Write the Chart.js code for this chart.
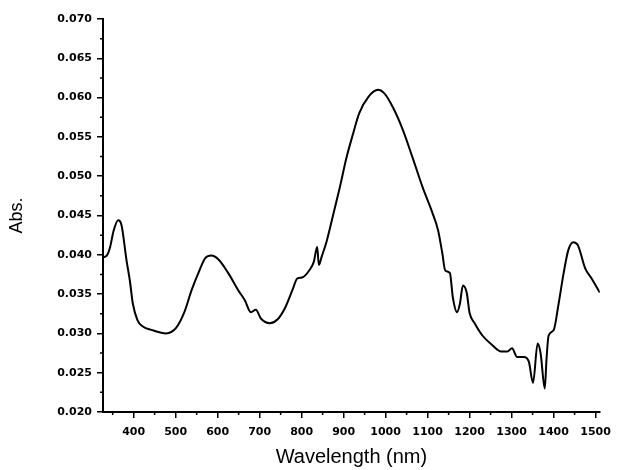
<!DOCTYPE html>
<html>
<head>
<meta charset="utf-8">
<script src="https://cdn.jsdelivr.net/npm/chart.js@4.4.1/dist/chart.umd.min.js"></script>
<style>
  html, body { margin: 0; padding: 0; background: #fff; }
  #wrap { width: 619px; height: 470px; }
</style>
</head>
<body>
<div id="wrap"><canvas id="spectrum"></canvas></div>
<script>
// wavelength (nm) and absorbance
const wavelengths = [
  328, 336, 344, 352, 363, 371, 383, 391, 398, 409, 421, 445, 477, 501, 520,
  538, 555, 571, 585, 602, 625, 649, 665, 679, 691, 703, 724, 743, 761, 778,
  790, 801, 818, 829, 837, 841, 848, 860, 876, 891, 907, 923, 937, 959, 982,
  996, 1017, 1041, 1064, 1088, 1111, 1125, 1135, 1142, 1153, 1160, 1170, 1177,
  1184, 1193, 1200, 1212, 1231, 1254, 1275, 1290, 1301, 1313, 1329, 1341, 1351,
  1362, 1369, 1379, 1383, 1388, 1400, 1412, 1424, 1435, 1447, 1458, 1475, 1489, 1510
];
const absorbance = [
  0.0397, 0.0399, 0.0410, 0.0430, 0.0444, 0.0438, 0.0393, 0.0367, 0.0338, 0.0317,
  0.0309, 0.0304, 0.0300, 0.0307, 0.0326, 0.0355, 0.0378, 0.0396, 0.0399, 0.0394,
  0.0377, 0.0355, 0.0342, 0.0327, 0.0330, 0.0319, 0.0313, 0.0318, 0.0333, 0.0355,
  0.0370, 0.0371, 0.0380, 0.0391, 0.0410, 0.0387, 0.0398, 0.0418, 0.0453, 0.0486,
  0.0524, 0.0555, 0.0580, 0.0601, 0.0610, 0.0606, 0.0588, 0.0559, 0.0524, 0.0486,
  0.0454, 0.0431, 0.0402, 0.0380, 0.0377, 0.0346, 0.0327, 0.0338, 0.0361, 0.0352,
  0.0326, 0.0313, 0.0297, 0.0285, 0.0277, 0.0277, 0.0281, 0.0270, 0.0270, 0.0264,
  0.0237, 0.0287, 0.0275, 0.0230, 0.0266, 0.0297, 0.0304, 0.0338, 0.0377, 0.0406,
  0.0416, 0.0412, 0.0383, 0.0371, 0.0352
];

const xMajorTicks = [400, 500, 600, 700, 800, 900, 1000, 1100, 1200, 1300, 1400, 1500];
const xMinorTicks = [350, 450, 550, 650, 750, 850, 950, 1050, 1150, 1250, 1350, 1450];
const yMajorTicks = [0.020, 0.025, 0.030, 0.035, 0.040, 0.045, 0.050, 0.055, 0.060, 0.065, 0.070];
const yMinorTicks = [0.0225, 0.0275, 0.0325, 0.0375, 0.0425, 0.0475, 0.0525, 0.0575, 0.0625, 0.0675];

const points = wavelengths.map((w, i) => ({ x: w, y: absorbance[i] }));

const tickFont = { family: "DejaVu Sans", size: 11, weight: "bold" };
const titleFont = { family: "Liberation Sans", size: 20 };

// short minor tick marks between the labelled ones
const minorTicks = {
  id: "minorTicks",
  afterDraw(chart) {
    const { ctx, scales: { x, y } } = chart;
    ctx.save();
    ctx.strokeStyle = "#000";
    ctx.lineWidth = 1.5;
    ctx.beginPath();
    xMinorTicks.forEach(v => {
      const px = x.getPixelForValue(v);
      ctx.moveTo(px, x.top);
      ctx.lineTo(px, x.top + 3);
    });
    yMinorTicks.forEach(v => {
      const py = y.getPixelForValue(v);
      ctx.moveTo(y.right, py);
      ctx.lineTo(y.right - 3, py);
    });
    ctx.stroke();
    ctx.restore();
  }
};

new Chart(document.getElementById("spectrum"), {
  type: "scatter",
  data: {
    datasets: [{
      label: "Abs.",
      data: points,
      showLine: true,
      borderColor: "#000",
      borderWidth: 2,
      pointRadius: 0,
      tension: 0.3,
      cubicInterpolationMode: "monotone"
    }]
  },
  options: {
    responsive: true,
    maintainAspectRatio: false,
    animation: false,
    layout: { padding: { left: 4, right: 12, top: 19, bottom: 0 } },
    plugins: {
      legend: { display: false },
      tooltip: { enabled: false }
    },
    scales: {
      x: {
        type: "linear",
        min: 327,
        max: 1510,
        afterBuildTicks: scale => {
          scale.ticks = xMajorTicks.map(v => ({ value: v }));
        },
        afterFit: scale => { scale.height = 58; },
        border: { display: true, color: "#000", width: 2 },
        grid: { display: true, drawOnChartArea: false, drawTicks: true, tickLength: 6, color: "#000", lineWidth: 1.5 },
        ticks: {
          color: "#000",
          font: tickFont,
          padding: 8,
          maxRotation: 0,
          autoSkip: false,
          callback: v => String(v)
        },
        title: {
          display: true,
          text: "Wavelength (nm)",
          color: "#000",
          font: titleFont,
          padding: { top: 0, bottom: 1 }
        }
      },
      y: {
        type: "linear",
        min: 0.020,
        max: 0.070,
        afterBuildTicks: scale => {
          scale.ticks = yMajorTicks.map(v => ({ value: v }));
        },
        afterFit: scale => { scale.width = 99; },
        border: { display: true, color: "#000", width: 2 },
        grid: { display: true, drawOnChartArea: false, drawTicks: true, tickLength: 6, color: "#000", lineWidth: 1.5 },
        ticks: {
          color: "#000",
          font: tickFont,
          padding: 5,
          autoSkip: false,
          callback: v => Number(v).toFixed(3)
        },
        title: {
          display: true,
          text: "Abs.",
          color: "#000",
          font: { family: "Liberation Sans", size: 18 },
          padding: { top: 2, bottom: 0 }
        }
      }
    }
  },
  plugins: [minorTicks]
});
</script>
</body>
</html>
